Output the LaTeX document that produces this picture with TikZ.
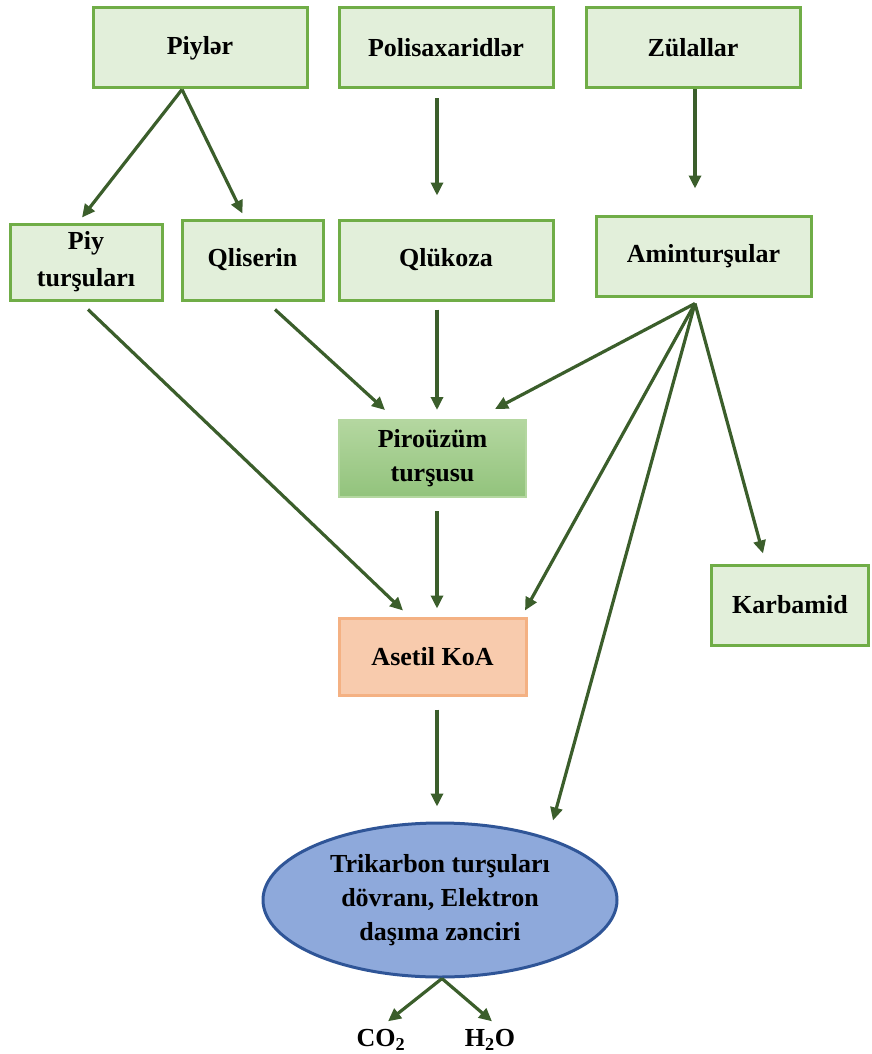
\documentclass[tikz,border=0pt]{standalone}
\usepackage{fontspec}
\setmainfont{Liberation Serif}
\usepackage{tikz}
\usetikzlibrary{arrows.meta,shapes.geometric}
\definecolor{boxfill}{HTML}{E2EFDA}
\definecolor{boxline}{HTML}{70AD47}
\definecolor{arrowgreen}{HTML}{3B5E2B}
\definecolor{pirtop}{HTML}{B4D7A0}
\definecolor{pirbot}{HTML}{92C37C}
\definecolor{asetfill}{HTML}{F8CBAD}
\definecolor{asetline}{HTML}{F4B183}
\definecolor{cyclefill}{HTML}{8EA9DB}
\definecolor{cycleline}{HTML}{2F5597}

\begin{document}
\begin{tikzpicture}[x=1pt,y=-1pt,
    font=\fontsize{26}{34}\selectfont\bfseries,
    greenbox/.style={draw=boxline,fill=boxfill,line width=3pt,minimum width=#1,minimum height=80pt,align=center,inner sep=0pt},
    flow/.style={draw=arrowgreen,line width=3.2pt,-{Triangle[length=13pt,width=12pt]}}]
  \useasboundingbox (0,0) rectangle (871,1054);
  \node[greenbox=214pt] (piyler) at (200,48) {Piylər};
  \node[greenbox=214pt] (polisax) at (446,48) {Polisaxaridlər};
  \node[greenbox=214pt] (zulal) at (693,48) {Zülallar};
  \node[greenbox=152pt,minimum height=76pt,font=\fontsize{26}{37}\selectfont\bfseries] (piyt) at (86,262) {Piy\\turşuları};
  \node[greenbox=141pt] (qliserin) at (252.5,260) {Qliserin};
  \node[greenbox=214pt] (qlukoza) at (446,260) {Qlükoza};
  \node[greenbox=215pt] (amin) at (703.5,256) {Aminturşular};
  \node[draw=pirtop,top color=pirtop,bottom color=pirbot,line width=2pt,minimum width=187pt,minimum height=77pt,align=center,inner sep=0pt] (piruzum) at (432.5,458.5) {Piroüzüm\\turşusu};
  \node[draw=asetline,fill=asetfill,line width=3pt,minimum width=187pt,minimum height=77pt,inner sep=0pt] (asetil) at (432.5,656.5) {Asetil KoA};
  \node[greenbox=157pt] (karbamid) at (790,605) {Karbamid};
  \node[ellipse,draw=cycleline,fill=cyclefill,line width=3pt,minimum width=354pt,minimum height=154pt,inner sep=0pt,align=center] (tsikl) at (440,900) {Trikarbon turşuları\\dövranı, Elektron\\daşıma zənciri};
  \node[inner sep=0pt] (co2) at (381,1040) {CO\textsubscript{2}};
  \node[inner sep=0pt] (h2o) at (490,1040) {H\textsubscript{2}O};

  \draw[flow] ([xshift=-18pt]piyler.south) -- ([xshift=-4pt,yshift=5pt]piyt.north);
  \draw[flow] ([xshift=-18pt]piyler.south) -- ([xshift=-10pt,yshift=5pt]qliserin.north);
  \draw[flow] ([xshift=-9pt,yshift=-9pt]polisax.south) -- ([xshift=-9pt,yshift=23pt]qlukoza.north);
  \draw[flow] ([xshift=2pt]zulal.south) -- ([xshift=-8.5pt,yshift=26pt]amin.north);
  \draw[flow] ([xshift=2pt,yshift=-8pt]piyt.south) -- ([xshift=-29.5pt,yshift=6pt]asetil.north);
  \draw[flow] ([xshift=22.5pt,yshift=-8pt]qliserin.south) -- ([xshift=-47.5pt,yshift=9pt]piruzum.north);
  \draw[flow] ([xshift=-9pt,yshift=-8pt]qlukoza.south) -- ([xshift=4.5pt,yshift=9pt]piruzum.north);
  \draw[flow] ([xshift=-8.5pt,yshift=-6pt]amin.south) -- ([xshift=62.5pt,yshift=10pt]piruzum.north);
  \draw[flow] ([xshift=-8.5pt,yshift=-6pt]amin.south) -- ([xshift=92.5pt,yshift=6pt]asetil.north);
  \draw[flow] ([xshift=-8.5pt,yshift=-6pt]amin.south) -- ([xshift=113pt,yshift=1pt]tsikl.north);
  \draw[flow] ([xshift=-8.5pt,yshift=-6pt]amin.south) -- ([xshift=-27pt,yshift=10pt]karbamid.north);
  \draw[flow] ([xshift=4.5pt,yshift=-13pt]piruzum.south) -- ([xshift=4.5pt,yshift=8pt]asetil.north);
  \draw[flow] ([xshift=4.5pt,yshift=-13pt]asetil.south) -- ([xshift=-3pt,yshift=15pt]tsikl.north);
  \draw[flow] ([xshift=2pt]tsikl.south) -- ([xshift=7pt,yshift=8pt]co2.north);
  \draw[flow] ([xshift=2pt]tsikl.south) -- ([xshift=2pt,yshift=8pt]h2o.north);
\end{tikzpicture}
\end{document}
